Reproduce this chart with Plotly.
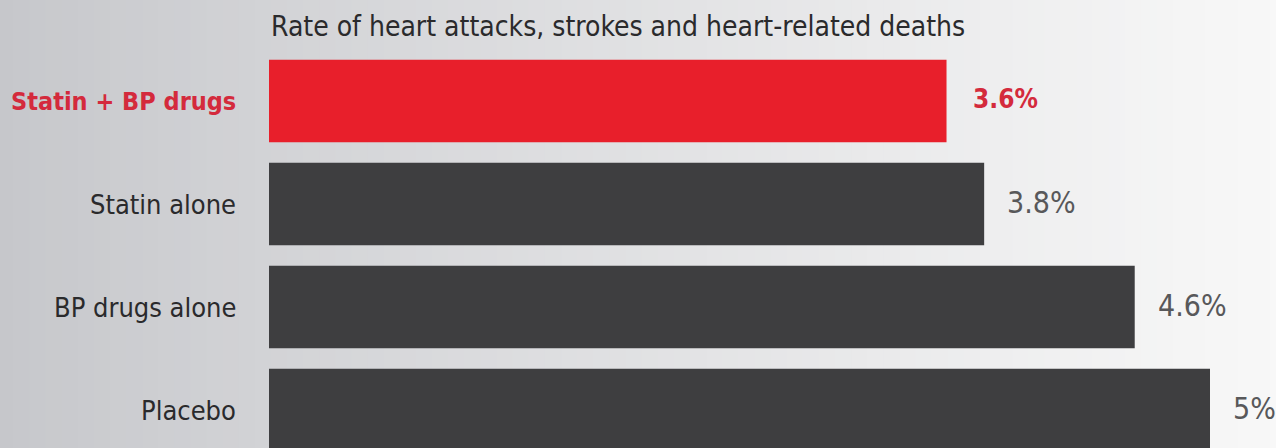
import plotly.graph_objects as go

# Trial results: rate of cardiovascular events per treatment group
groups = ["Statin + BP drugs", "Statin alone", "BP drugs alone", "Placebo"]
rates = [3.6, 3.8, 4.6, 5.0]
rate_labels = ["3.6%", "3.8%", "4.6%", "5%"]
title_text = "Rate of heart attacks, strokes and heart-related deaths"

RED = "#e81f2b"
RED_TEXT = "#d42a3c"
DARK = "#3e3e40"
GREY_TEXT = "#58585a"
LABEL_TEXT = "#2a2a2c"
FONT = "DejaVu Sans Condensed, DejaVu Sans, sans-serif"

bar_colors = [RED] + [DARK] * (len(groups) - 1)

fig = go.Figure()
fig.add_trace(go.Bar(
    y=groups,
    x=rates,
    orientation="h",
    marker=dict(color=bar_colors, line=dict(width=0)),
    width=0.8,
    hoverinfo="skip",
    showlegend=False,
))

# soft grey-to-white background gradient, left to right
n_strips = 80
def lerp(a, b, t):
    return int(round(a + (b - a) * t))
c0 = (198, 199, 203)
c1 = (248, 248, 248)
shapes = []
for i in range(n_strips):
    t = i / (n_strips - 1)
    tt = min(1.0, t ** 0.9)
    col = "rgb({},{},{})".format(lerp(c0[0], c1[0], tt), lerp(c0[1], c1[1], tt), lerp(c0[2], c1[2], tt))
    shapes.append(dict(type="rect", xref="paper", yref="paper", layer="below",
                       x0=-0.27 + 1.28 * i / n_strips, x1=-0.27 + 1.28 * (i + 1) / n_strips + 0.002,
                       y0=0, y1=1, fillcolor=col, line=dict(width=0)))

annotations = []
for i, (g, v, lab) in enumerate(zip(groups, rates, rate_labels)):
    first = i == 0
    annotations.append(dict(
        x=0, y=g, xref="x", yref="y", xanchor="right", xshift=-31,
        text=f"<b>{g}</b>" if first else g, showarrow=False,
        font=dict(family=FONT, size=25 if first else 27, color=RED_TEXT if first else LABEL_TEXT),
    ))
    annotations.append(dict(
        x=v, y=g, xref="x", yref="y", xanchor="left", xshift=24 if first else 21,
        yshift=2,
        text=f"<b>{lab}</b>" if first else lab, showarrow=False,
        font=dict(family=FONT, size=26 if first else 30, color=RED_TEXT if first else GREY_TEXT),
    ))
annotations.append(dict(
    x=0, y=1 - 27 / 448, xref="x", yref="paper", xanchor="left", yanchor="middle",
    text=title_text, showarrow=False,
    font=dict(family=FONT, size=28, color=LABEL_TEXT),
))

fig.update_layout(
    width=1276, height=448,
    margin=dict(l=269, r=0, t=0, b=0),
    paper_bgcolor="#d8d8db",
    plot_bgcolor="rgba(0,0,0,0)",
    shapes=shapes,
    annotations=annotations,
    bargap=0.2,
    xaxis=dict(range=[0, 1007 / 188.2], visible=False, fixedrange=True),
    yaxis=dict(categoryorder="array", categoryarray=groups,
               range=[(448 - 101) / 103, -101 / 103],
               visible=False, fixedrange=True),
)

fig.write_html("out.html")
